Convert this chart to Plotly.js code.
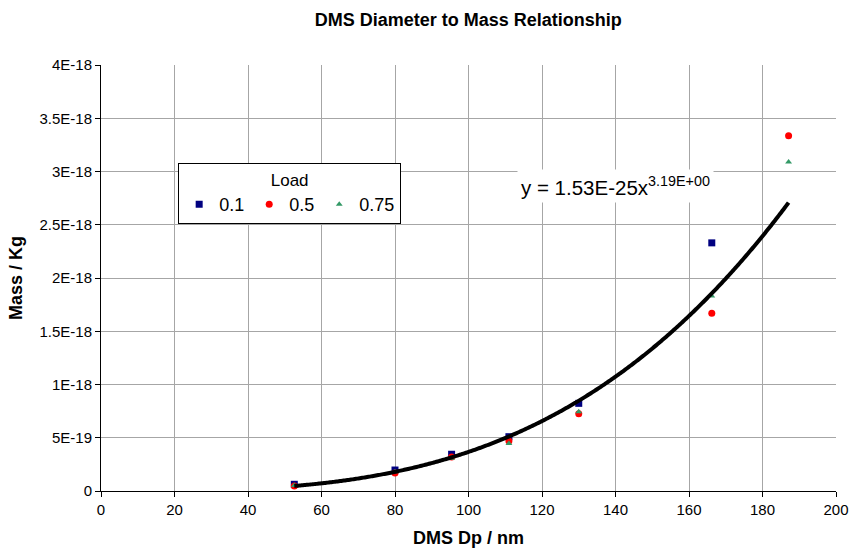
<!DOCTYPE html>
<html>
<head>
<meta charset="utf-8">
<script src="https://cdn.plot.ly/plotly-3.0.1.min.js"></script>
<style>html,body{margin:0;padding:0;background:#fff;}#chart{width:849px;height:553px;}</style>
</head>
<body>
<div id="chart"></div>
<script>
// Data
const dp01 = [52.6, 80.0, 95.4, 111.0, 130.0, 166.2];
const mass01 = [6.3e-20, 1.97e-19, 3.45e-19, 5.1e-19, 8.23e-19, 2.33e-18];

const dp05 = [52.6, 80.0, 95.4, 111.0, 130.0, 166.2, 187.1];
const mass05 = [4.7e-20, 1.68e-19, 3.2e-19, 4.7e-19, 7.25e-19, 1.67e-18, 3.335e-18];

const dp075 = [52.6, 80.0, 95.4, 111.0, 130.0, 166.2, 187.1];
const mass075 = [5.2e-20, 1.8e-19, 3.07e-19, 4.45e-19, 7.45e-19, 1.83e-18, 3.09e-18];

const seriesNames = ["0.1", "0.5", "0.75"];

// Power trendline, coefficients as displayed on the chart
const trendCoef = 1.53e-25;
const trendExp = 3.19;
const trendStart = 52.6, trendEnd = 187.1;

const yTickVals = [0, 5e-19, 1e-18, 1.5e-18, 2e-18, 2.5e-18, 3e-18, 3.5e-18, 4e-18];
const yTickText = ["0", "5E-19", "1E-18", "1.5E-18", "2E-18", "2.5E-18", "3E-18", "3.5E-18", "4E-18"];
const xTickVals = [0, 20, 40, 60, 80, 100, 120, 140, 160, 180, 200];

const trendX = [], trendY = [];
for (let i = 0; i <= 400; i++) {
  const x = trendStart + (trendEnd - trendStart) * i / 400;
  trendX.push(x);
  trendY.push(trendCoef * Math.pow(x, trendExp));
}

const font = "Liberation Sans, Arial, sans-serif";

const traces = [
  {x: dp01, y: mass01, name: seriesNames[0], type: "scatter", mode: "markers",
   marker: {symbol: "square", size: 7, color: "#000080"}},
  {x: dp05, y: mass05, name: seriesNames[1], type: "scatter", mode: "markers",
   marker: {symbol: "circle", size: 7, color: "#FF0000"}},
  {x: dp075, y: mass075, name: seriesNames[2], type: "scatter", mode: "markers",
   marker: {symbol: "triangle-up", size: 6, color: "#339966"}},
  {x: trendX, y: trendY, type: "scatter", mode: "lines", showlegend: false,
   line: {color: "#000", width: 4, simplify: false}, hoverinfo: "skip"}
];

const layout = {
  width: 849, height: 553,
  margin: {l: 101, r: 13, t: 65, b: 62},
  paper_bgcolor: "#fff", plot_bgcolor: "#fff",
  font: {family: font, size: 15, color: "#000"},
  title: {text: "<b>DMS Diameter to Mass Relationship</b>", font: {family: font, size: 18},
          x: 0.5515, xanchor: "center", y: 0.964, yanchor: "middle"},
  xaxis: {
    range: [0, 200], tickvals: xTickVals, ticks: "outside", ticklen: 5, tickcolor: "#000",
    showgrid: true, gridcolor: "#a6a6a6", gridwidth: 1,
    showline: true, linecolor: "#000", linewidth: 1, zeroline: false,
    tickfont: {size: 15},
    title: {text: "<b>DMS Dp / nm</b>", font: {size: 18}, standoff: 14}
  },
  yaxis: {
    range: [0, 4e-18], tickvals: yTickVals, ticktext: yTickText, ticks: "outside", ticklen: 5, tickcolor: "#000",
    showgrid: true, gridcolor: "#a6a6a6", gridwidth: 1,
    showline: true, linecolor: "#000", linewidth: 1, zeroline: false,
    tickfont: {size: 15},
    title: {text: "<b>Mass / Kg</b>", font: {size: 18}, standoff: 12}
  },
  showlegend: true,
  legend: {
    orientation: "h", x: 0.105, y: 0.77, xanchor: "left", yanchor: "top",
    bgcolor: "#fff", bordercolor: "#000", borderwidth: 1,
    font: {size: 18}, tracegroupgap: 0,
    title: {text: "Load", side: "top center", font: {size: 17}},
    itemwidth: 30
  },
  annotations: [{
    x: 139.9, y: 2.86e-18, xref: "x", yref: "y", showarrow: false,
    text: "y = 1.53E-25x<sup>3.19E+00</sup>", font: {size: 20.5},
    bgcolor: "#fff", borderpad: 3
  }]
};

Plotly.newPlot("chart", traces, layout, {displayModeBar: false, staticPlot: true});
</script>
</body>
</html>
